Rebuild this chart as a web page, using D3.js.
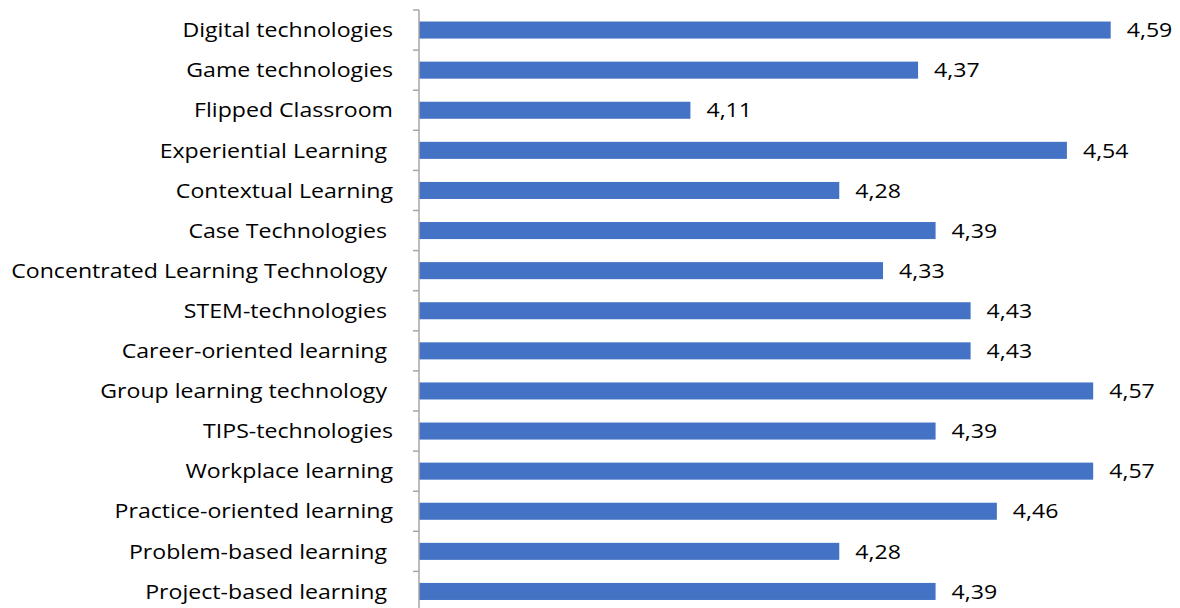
<!DOCTYPE html>
<html>
<head>
<meta charset="utf-8">
<script src="https://cdn.jsdelivr.net/npm/d3@7"></script>
<style>
  body { margin: 0; background: #fff; }
  svg text { font-family: "Open Sans", Lato, sans-serif; white-space: pre; }
</style>
</head>
<body>
<svg id="chart" width="1180" height="608"></svg>
<script>
// categories top to bottom (trailing spaces kept as in source labels)
const categories = [
  'Digital technologies',
  'Game technologies',
  'Flipped Classroom',
  'Experiential Learning ',
  'Contextual Learning',
  'Case Technologies ',
  'Concentrated Learning Technology ',
  'STEM-technologies ',
  'Career-oriented learning ',
  'Group learning technology ',
  'TIPS-technologies',
  'Workplace learning',
  'Practice-oriented learning',
  'Problem-based learning ',
  'Project-based learning '
];
const values = [4.59, 4.37, 4.11, 4.54, 4.28, 4.39, 4.33, 4.43, 4.43, 4.57, 4.39, 4.57, 4.46, 4.28, 4.39];
const xDomain = [3.8, 4.7];

const data = categories.map((c, i) => ({ cat: c, val: values[i] }));

const svg = d3.select('#chart');
const axisX = 419;
const fontSize = 20;

const x = d3.scaleLinear()
    .domain(xDomain)
    .range([axisX, 1207]);

const y = d3.scaleBand()
    .domain(categories)
    .range([10, 611.5])
    .paddingInner(0.575)
    .paddingOuter(0.2875);

const fmt = v => d3.format('.2f')(v).replace('.', ',');

// the source text is wider than any installed face; measure and stretch
const probe = svg.append('text').attr('font-size', fontSize).text('Concentrated Learning Technology');
const sx = 376 / probe.node().getComputedTextLength();
probe.remove();

// bars
svg.append('g')
  .selectAll('rect')
  .data(data)
  .join('rect')
    .attr('x', axisX)
    .attr('y', d => y(d.cat))
    .attr('width', d => x(d.val) - axisX)
    .attr('height', y.bandwidth())
    .attr('fill', '#4472c4');

// value labels
svg.append('g')
  .selectAll('text')
  .data(data)
  .join('text')
    .attr('transform', d => `translate(${x(d.val) + 16},${y(d.cat) + y.bandwidth() / 2}) scale(${sx},1)`)
    .attr('dy', '0.36em')
    .attr('font-size', fontSize)
    .attr('fill', '#000')
    .text(d => fmt(d.val));

// category axis with ticks between bands
const step = y.step();
const bandStart = y.range()[0];
const g = svg.append('g');
g.append('line')
    .attr('x1', axisX).attr('x2', axisX)
    .attr('y1', bandStart).attr('y2', 608)
    .attr('stroke', '#a6a6a6').attr('stroke-width', 1.5);

g.selectAll('.tick')
  .data(d3.range(categories.length + 1))
  .join('line')
    .attr('class', 'tick')
    .attr('x1', axisX - 6).attr('x2', axisX)
    .attr('y1', i => bandStart + i * step)
    .attr('y2', i => bandStart + i * step)
    .attr('stroke', '#a6a6a6').attr('stroke-width', 1.5);

g.selectAll('.label')
  .data(data)
  .join('text')
    .attr('class', 'label')
    .attr('transform', d => `translate(393,${y(d.cat) + y.bandwidth() / 2}) scale(${sx},1)`)
    .attr('dy', '0.36em')
    .attr('text-anchor', 'end')
    .attr('font-size', fontSize)
    .attr('fill', '#000')
    .text(d => d.cat);
</script>
</body>
</html>
